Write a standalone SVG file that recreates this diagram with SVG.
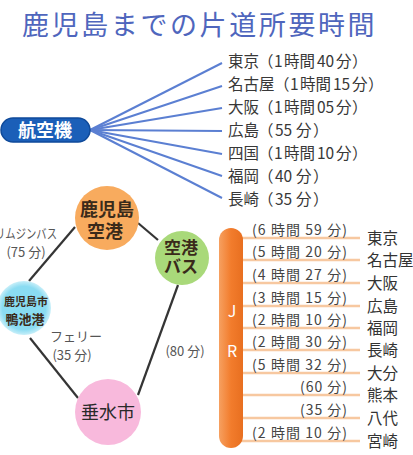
<svg xmlns="http://www.w3.org/2000/svg" width="413" height="455" viewBox="0 0 413 455">
<style>
text{font-family:"Noto Sans CJK JP","Noto Sans",sans-serif}
.title{font-size:27px;fill:#4f66bd;letter-spacing:2.6px}
.air{font-size:15.5px;fill:#383838}
.fan{stroke:#5b7fd2;stroke-width:2;fill:none}
.link{stroke:#353535;stroke-width:2.2;fill:none}
.lbl{font-size:13px;fill:#555}
.node{font-weight:bold;fill:#3a2a1a;text-anchor:middle}
.jrl{stroke:#f7c8a0;stroke-width:2.5}
.t{font-size:14px;fill:#444;text-anchor:end}
.city{font-size:15.5px;fill:#333}
</style>
<defs>
<radialGradient id="cy" cx="0.5" cy="0.5" r="0.5">
<stop offset="0" stop-color="#86dcf2"/>
<stop offset="0.8" stop-color="#8bdcf2"/>
<stop offset="1" stop-color="#c8eff9"/>
</radialGradient>
<linearGradient id="jr" x1="0" y1="0" x2="1" y2="0">
<stop offset="0" stop-color="#f6a060"/>
<stop offset="0.5" stop-color="#f27c2c"/>
<stop offset="1" stop-color="#e86f20"/>
</linearGradient>
</defs>
<rect width="413" height="455" fill="#fff"/>
<text class="title" x="22" y="35">鹿児島までの片道所要時間</text>

<g id="connectors">
<g id="air-fan">
<line class="fan" x1="90" y1="130" x2="222" y2="63"/>
<line class="fan" x1="90" y1="130" x2="222" y2="86"/>
<line class="fan" x1="90" y1="130" x2="222" y2="108"/>
<line class="fan" x1="90" y1="130" x2="222" y2="131"/>
<line class="fan" x1="90" y1="130" x2="222" y2="154"/>
<line class="fan" x1="90" y1="130" x2="222" y2="176"/>
<line class="fan" x1="90" y1="130" x2="222" y2="198"/>
</g>
<line class="link" x1="75" y1="227" x2="29" y2="281"/>
<line class="link" x1="138" y1="223" x2="158" y2="240"/>
<line class="link" x1="178" y1="285" x2="138" y2="395"/>
<line class="link" x1="30" y1="338" x2="78" y2="398"/>
<g id="jr-lines">
<line class="jrl" x1="240" y1="238" x2="360" y2="238"/>
<line class="jrl" x1="240" y1="260" x2="360" y2="260"/>
<line class="jrl" x1="240" y1="283" x2="360" y2="283"/>
<line class="jrl" x1="240" y1="306" x2="360" y2="306"/>
<line class="jrl" x1="240" y1="328" x2="360" y2="328"/>
<line class="jrl" x1="240" y1="350" x2="360" y2="350"/>
<line class="jrl" x1="240" y1="373" x2="360" y2="373"/>
<line class="jrl" x1="240" y1="395" x2="360" y2="395"/>
<line class="jrl" x1="240" y1="418" x2="360" y2="418"/>
<line class="jrl" x1="240" y1="441" x2="360" y2="441"/>
</g>
<text class="lbl" x="-5" y="238" textLength="62" lengthAdjust="spacingAndGlyphs">リムジンバス</text>
<text class="lbl" x="26" y="257" text-anchor="middle">(75 分)</text>
<text class="lbl" x="50" y="341">フェリー</text>
<text class="lbl" x="72" y="360" text-anchor="middle">(35 分)</text>
<text class="lbl" x="185" y="356" text-anchor="middle">(80 分)</text>
</g>

<g id="air">
<rect x="1" y="118" width="89" height="24" rx="12" fill="#1b5fb8" stroke="#0f4a9a" stroke-width="1.5"/>
<text x="45" y="137" text-anchor="middle" font-size="18" font-weight="bold" fill="#fff">航空機</text>
</g>
<g id="air-dest">
<text class="air" y="67"><tspan x="228">東京</tspan><tspan x="258">（</tspan><tspan x="274">1</tspan><tspan x="284">時間</tspan><tspan x="317">40</tspan><tspan x="336">分</tspan><tspan x="352">）</tspan></text>
<text class="air" y="90"><tspan x="228">名古屋</tspan><tspan x="274">（</tspan><tspan x="290">1</tspan><tspan x="300">時間</tspan><tspan x="333">15</tspan><tspan x="352">分</tspan><tspan x="368">）</tspan></text>
<text class="air" y="113"><tspan x="228">大阪</tspan><tspan x="258">（</tspan><tspan x="274">1</tspan><tspan x="284">時間</tspan><tspan x="317">05</tspan><tspan x="336">分</tspan><tspan x="352">）</tspan></text>
<text class="air" y="136"><tspan x="228">広島</tspan><tspan x="258">（</tspan><tspan x="275">55</tspan><tspan x="296">分</tspan><tspan x="313">）</tspan></text>
<text class="air" y="159"><tspan x="228">四国</tspan><tspan x="258">（</tspan><tspan x="274">1</tspan><tspan x="284">時間</tspan><tspan x="317">10</tspan><tspan x="336">分</tspan><tspan x="352">）</tspan></text>
<text class="air" y="182"><tspan x="228">福岡</tspan><tspan x="258">（</tspan><tspan x="275">40</tspan><tspan x="296">分</tspan><tspan x="313">）</tspan></text>
<text class="air" y="205"><tspan x="228">長崎</tspan><tspan x="258">（</tspan><tspan x="275">35</tspan><tspan x="296">分</tspan><tspan x="313">）</tspan></text>
</g>

<g id="kagoshima-airport">
<circle cx="107" cy="218" r="32" fill="#f8ab5e"/>
<text class="node" x="107" y="216" font-size="18">鹿児島</text>
<text class="node" x="105" y="238" font-size="18">空港</text>
</g>
<g id="airport-bus">
<circle cx="182" cy="258" r="27" fill="#a9d97a"/>
<text class="node" x="181" y="254" font-size="17">空港</text>
<text class="node" x="181" y="273" font-size="17">バス</text>
</g>
<g id="kamoike">
<circle cx="24" cy="308" r="27" fill="url(#cy)"/>
<text class="node" x="26" y="306" font-size="11" fill="#1c2a3a">鹿児島市</text>
<text class="node" x="25" y="324" font-size="13" fill="#1c2a3a">鴨池港</text>
</g>
<g id="tarumizu">
<circle cx="108" cy="412" r="33" fill="#f8b9dc"/>
<text x="108" y="419" text-anchor="middle" font-size="18" fill="#2a2a2a">垂水市</text>
</g>

<g id="jr">
<rect x="219" y="228" width="24" height="220" rx="12" fill="url(#jr)"/>
<text x="232" y="317" text-anchor="middle" font-size="16" fill="#fff" font-family="Liberation Sans, sans-serif">J</text>
<text x="232" y="357" text-anchor="middle" font-size="16" fill="#fff" font-family="Liberation Sans, sans-serif">R</text>
</g>
<g id="jr-dest">
<text class="t" x="347" y="235" textLength="95">(6 時間 59 分)</text>
<text class="t" x="347" y="257" textLength="95">(5 時間 20 分)</text>
<text class="t" x="347" y="280" textLength="95">(4 時間 27 分)</text>
<text class="t" x="347" y="303" textLength="95">(3 時間 15 分)</text>
<text class="t" x="347" y="325" textLength="95">(2 時間 10 分)</text>
<text class="t" x="347" y="347" textLength="95">(2 時間 30 分)</text>
<text class="t" x="347" y="370" textLength="95">(5 時間 32 分)</text>
<text class="t" x="347" y="392" textLength="47">(60 分)</text>
<text class="t" x="347" y="415" textLength="47">(35 分)</text>
<text class="t" x="347" y="438" textLength="95">(2 時間 10 分)</text>
<text class="city" x="367" y="244">東京</text>
<text class="city" x="367" y="266">名古屋</text>
<text class="city" x="367" y="289">大阪</text>
<text class="city" x="367" y="312">広島</text>
<text class="city" x="367" y="334">福岡</text>
<text class="city" x="367" y="356">長崎</text>
<text class="city" x="367" y="379">大分</text>
<text class="city" x="367" y="401">熊本</text>
<text class="city" x="367" y="424">八代</text>
<text class="city" x="367" y="447">宮崎</text>
</g>
</svg>
